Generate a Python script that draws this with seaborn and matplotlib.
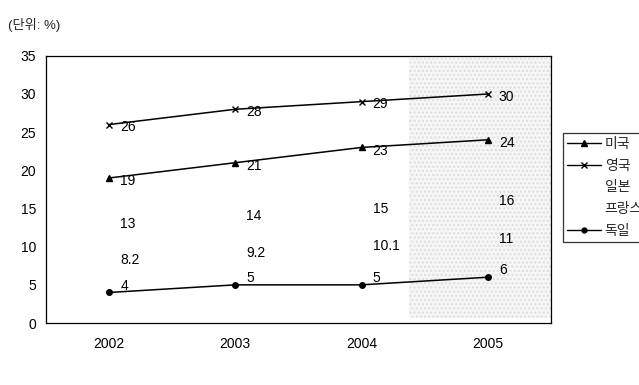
import matplotlib
matplotlib.use("Agg")
import matplotlib.pyplot as plt
from matplotlib.lines import Line2D
import numpy as np
import pandas as pd
import seaborn as sns

# Share of each country (%), 2002-2005
years = ["2002", "2003", "2004", "2005"]
usa = [19, 21, 23, 24]
uk = [26, 28, 29, 30]
japan = [13, 14, 15, 16]
france = [8.2, 9.2, 10.1, 11]
germany = [4, 5, 5, 6]

names = ["미국", "영국", "일본", "프랑스", "독일"]

sns.set_theme(style="white")
plt.rcParams["font.family"] = ["Liberation Sans", "Noto Sans CJK KR", "DejaVu Sans"]

fig = plt.figure(figsize=(6.39, 3.85), dpi=100)
ax = fig.add_axes([0.072, 0.161, 0.790, 0.694])

xpos = np.arange(len(years))

# light stippled band at the right of the plot area
ax.axvspan(2.38, 3.5, ymin=0.02, ymax=0.99, facecolor="#f6f6f6",
           hatch="....", edgecolor="#dddddd", linewidth=0, zorder=0)

lined = [
    (usa, "^", 4.5, names[0]),
    (uk, "x", 4.5, names[1]),
    (germany, "o", 4, names[4]),
]
for vals, mk, ms, nm in lined:
    df = pd.DataFrame({"x": xpos, "y": vals})
    sns.lineplot(data=df, x="x", y="y", ax=ax, color="black", linewidth=1.1,
                 marker=mk, markersize=ms, markeredgecolor="black",
                 markeredgewidth=1.0, zorder=3)

# value labels
def put_labels(vals, dy=0):
    for x, v in zip(xpos, vals):
        txt = f"{v:g}"
        ax.annotate(txt, (x, v), xytext=(8, dy), textcoords="offset points",
                    ha="left", va="center", fontsize=10, color="black", zorder=4)

put_labels(uk, -2)
put_labels(usa, -2.5)
put_labels(japan)
put_labels(france)
put_labels(germany, 5)

ax.set_xlim(-0.5, 3.5)
ax.set_ylim(0, 35)
ax.set_xticks(xpos)
ax.set_xticklabels(years)
ax.set_yticks(np.arange(0, 36, 5))
ax.set_xlabel("")
ax.set_ylabel("")
ax.tick_params(axis="both", labelsize=10, colors="black", length=0)
ax.tick_params(axis="x", pad=10)
ax.tick_params(axis="y", pad=7)
for s in ax.spines.values():
    s.set_visible(True)
    s.set_color("black")
    s.set_linewidth(0.9)

fig.text(0.012, 0.935, "(단위: %)", fontsize=9.5, ha="left", va="center")

handles = [
    Line2D([], [], color="black", marker="^", markersize=4, linewidth=1.0),
    Line2D([], [], color="black", marker="x", markersize=4, linewidth=1.0),
    Line2D([], [], linestyle="none", marker=None),
    Line2D([], [], linestyle="none", marker=None),
    Line2D([], [], color="black", marker="o", markersize=3.5, linewidth=1.0),
]
leg = fig.legend(handles, names, loc="upper left",
                 bbox_to_anchor=(563 / 639, 1 - 133 / 385),
                 fontsize=10, frameon=True, fancybox=False, handlelength=2.4,
                 handletextpad=0.3, labelspacing=0.55, borderpad=0.3,
                 borderaxespad=0)
leg.get_frame().set_edgecolor("black")
leg.get_frame().set_linewidth(0.9)

fig.savefig("out.png", dpi=100)
